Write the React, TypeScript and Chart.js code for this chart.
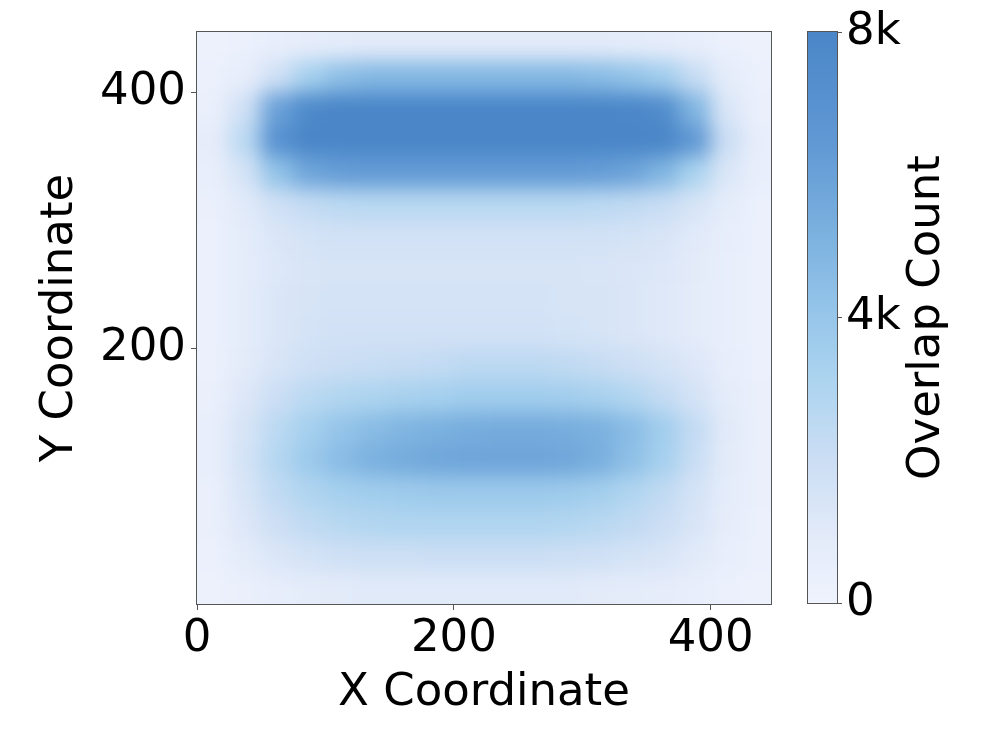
import React, { useEffect, useRef } from 'react';
import { Chart, registerables } from 'chart.js';
Chart.register(...registerables);

// ---- data ----
const X_CENTERS = [12.5, 37.5, 62.5, 87.5, 112.5, 137.5, 162.5, 187.5, 212.5, 237.5, 262.5, 287.5, 312.5, 337.5, 362.5, 387.5, 412.5, 437.5];
const Y_CENTERS = [437.5, 412.5, 387.5, 362.5, 337.5, 312.5, 287.5, 262.5, 237.5, 212.5, 187.5, 162.5, 137.5, 112.5, 87.5, 62.5, 37.5, 12.5];
const CELL = 25;

// overlap counts in thousands, one row per Y centre (top to bottom)
const ROW_437 = [0.2, 0.3, 0.5, 0.7, 0.8, 0.9, 0.9, 0.9, 0.9, 0.9, 0.9, 0.9, 0.9, 0.8, 0.7, 0.5, 0.3, 0.2];
const ROW_412 = [0.3, 0.6, 1.8, 3.4, 4.4, 4.8, 4.8, 4.8, 4.8, 4.8, 4.8, 4.8, 4.6, 4.2, 3.6, 2.2, 0.8, 0.3];
const ROW_387 = [0.4, 1.8, 6.0, 7.7, 8.0, 8.0, 8.0, 8.0, 8.0, 8.0, 8.0, 8.0, 8.0, 7.9, 7.5, 5.0, 1.3, 0.4];
const ROW_362 = [0.7, 2.6, 7.0, 8.0, 8.0, 8.0, 8.0, 8.0, 8.0, 8.0, 8.0, 8.0, 8.0, 8.0, 8.0, 6.5, 2.0, 0.5];
const ROW_337 = [0.5, 1.6, 4.2, 5.8, 6.2, 6.3, 6.3, 6.3, 6.3, 6.3, 6.3, 6.3, 6.2, 5.9, 5.0, 3.2, 1.3, 0.5];
const ROW_312 = [0.4, 1.0, 1.8, 2.3, 2.6, 2.7, 2.7, 2.7, 2.7, 2.7, 2.7, 2.7, 2.6, 2.4, 2.1, 1.5, 0.8, 0.3];
const ROW_287 = [0.3, 0.8, 1.3, 1.6, 1.7, 1.7, 1.7, 1.7, 1.7, 1.7, 1.7, 1.7, 1.7, 1.6, 1.4, 1.0, 0.6, 0.3];
const ROW_262 = [0.3, 0.8, 1.2, 1.4, 1.5, 1.5, 1.5, 1.5, 1.5, 1.5, 1.5, 1.5, 1.4, 1.3, 1.2, 0.9, 0.5, 0.3];
const ROW_237 = [0.3, 0.8, 1.3, 1.5, 1.6, 1.6, 1.6, 1.6, 1.6, 1.6, 1.6, 1.5, 1.5, 1.3, 1.1, 0.8, 0.5, 0.3];
const ROW_212 = [0.3, 0.8, 1.3, 1.6, 1.7, 1.7, 1.7, 1.7, 1.7, 1.7, 1.7, 1.6, 1.5, 1.3, 1.1, 0.8, 0.5, 0.3];
const ROW_187 = [0.3, 0.9, 1.4, 1.8, 2.0, 2.1, 2.2, 2.3, 2.5, 2.5, 2.5, 2.4, 2.2, 1.9, 1.6, 1.2, 0.6, 0.3];
const ROW_162 = [0.4, 1.2, 2.0, 2.6, 2.9, 3.1, 3.3, 3.4, 3.6, 3.6, 3.6, 3.5, 3.3, 2.9, 2.3, 1.6, 0.8, 0.4];
const ROW_137 = [0.5, 1.5, 2.6, 3.4, 4.1, 4.6, 5.0, 5.2, 5.4, 5.5, 5.5, 5.4, 5.2, 4.6, 3.6, 2.3, 1.0, 0.4];
const ROW_112 = [0.5, 1.6, 2.8, 3.8, 4.6, 5.2, 5.5, 5.7, 5.8, 5.8, 5.8, 5.7, 5.3, 4.4, 3.4, 2.1, 0.9, 0.4];
const ROW_87 = [0.4, 1.4, 2.4, 3.0, 3.4, 3.6, 3.7, 3.8, 3.8, 3.8, 3.8, 3.7, 3.5, 3.0, 2.4, 1.6, 0.8, 0.4];
const ROW_62 = [0.4, 1.2, 1.9, 2.4, 2.7, 2.9, 3.0, 3.0, 3.0, 3.0, 3.0, 2.9, 2.7, 2.4, 2.0, 1.4, 0.7, 0.3];
const ROW_37 = [0.3, 0.8, 1.3, 1.6, 1.8, 1.9, 1.9, 2.0, 2.0, 2.0, 2.0, 1.9, 1.8, 1.6, 1.4, 1.0, 0.5, 0.3];
const ROW_12 = [0.2, 0.4, 0.6, 0.8, 0.9, 1.0, 1.0, 1.0, 1.0, 1.0, 1.0, 1.0, 0.9, 0.8, 0.7, 0.5, 0.3, 0.2];
const HEAT_ROWS = [ROW_437, ROW_412, ROW_387, ROW_362, ROW_337, ROW_312, ROW_287, ROW_262, ROW_237, ROW_212, ROW_187, ROW_162, ROW_137, ROW_112, ROW_87, ROW_62, ROW_37, ROW_12];

const X_TICKS = [0, 200, 400];
const Y_TICKS = [200, 400];
const AXIS_MAX = 447;
const CB_TICKS = [0, 4000, 8000];
const CB_MAX = 8000;

// ---- colour map ----
const CMAP_POS = [0, 0.12, 0.25, 0.4, 0.5, 0.65, 0.8, 1];
const CMAP_COLORS = ['#eff3fd', '#e2eaf9', '#cbdef4', '#aad3ef', '#97c6ea', '#7bb1df', '#6199d4', '#4a86c8'];

function hexToRgb(h: string) {
  const n = parseInt(h.slice(1), 16);
  return [(n >> 16) & 255, (n >> 8) & 255, n & 255];
}
function colorFor(f: number) {
  const t = Math.max(0, Math.min(1, f));
  let i = 0;
  while (i < CMAP_POS.length - 2 && t > CMAP_POS[i + 1]) i++;
  const a = hexToRgb(CMAP_COLORS[i]);
  const b = hexToRgb(CMAP_COLORS[i + 1]);
  const u = (t - CMAP_POS[i]) / (CMAP_POS[i + 1] - CMAP_POS[i]);
  const c = a.map((v, k) => Math.round(v + (b[k] - v) * u));
  return `rgb(${c[0]},${c[1]},${c[2]})`;
}

const FONT = 'DejaVu Sans';
const FS = 45;
const SPINE = '#555';
const BLUR = 10;

const boxPlugin = {
  id: 'box',
  afterDraw(chart: any) {
    const { ctx, chartArea: a } = chart;
    ctx.save();
    ctx.strokeStyle = SPINE;
    ctx.lineWidth = 1;
    ctx.strokeRect(Math.round(a.left) - 0.5, Math.round(a.top) - 0.5, Math.round(a.right - a.left) + 1, Math.round(a.bottom - a.top) + 1);
    ctx.restore();
  },
};

const smoothPlugin = {
  id: 'smooth',
  afterDatasetsDraw(chart: any) {
    const { ctx, chartArea: a, canvas } = chart;
    const L = Math.round(a.left), T = Math.round(a.top);
    const w = Math.round(a.right) - L, h = Math.round(a.bottom) - T;
    const M = 48;
    const off = document.createElement('canvas');
    off.width = w + 2 * M;
    off.height = h + 2 * M;
    const o = off.getContext('2d')!;
    o.drawImage(canvas, L, T, w, h, M, M, w, h);
    o.drawImage(canvas, L + 1, T, 1, h, 0, M, M, h);
    o.drawImage(canvas, L + w - 2, T, 1, h, M + w, M, M, h);
    o.drawImage(canvas, L, T + 1, w, 1, M, 0, w, M);
    o.drawImage(canvas, L, T + h - 2, w, 1, M, M + h, w, M);
    o.drawImage(canvas, L + 1, T + 1, 1, 1, 0, 0, M, M);
    o.drawImage(canvas, L + w - 2, T + 1, 1, 1, M + w, 0, M, M);
    o.drawImage(canvas, L + 1, T + h - 2, 1, 1, 0, M + h, M, M);
    o.drawImage(canvas, L + w - 2, T + h - 2, 1, 1, M + w, M + h, M, M);
    ctx.save();
    ctx.beginPath();
    ctx.rect(L, T, w, h);
    ctx.clip();
    ctx.filter = `blur(${BLUR}px)`;
    ctx.drawImage(off, L - M, T - M);
    ctx.restore();
  },
};

const cbTitlePlugin = {
  id: 'cbTitle',
  afterDraw(chart: any) {
    const { ctx, chartArea: a } = chart;
    ctx.save();
    ctx.translate(137, (a.top + a.bottom) / 2);
    ctx.rotate(-Math.PI / 2);
    ctx.font = `${FS}px "${FONT}"`;
    ctx.fillStyle = '#000';
    ctx.textAlign = 'center';
    ctx.textBaseline = 'middle';
    ctx.fillText('Overlap Count', 0, 0);
    ctx.restore();
  },
};

export default function App() {
  const mainRef = useRef<HTMLCanvasElement>(null);
  const cbRef = useRef<HTMLCanvasElement>(null);

  useEffect(() => {
    const datasets = HEAT_ROWS.map((row, r) => ({
      data: row.map((v, c) => ({ x: X_CENTERS[c], y: [Y_CENTERS[r] - CELL / 2, Y_CENTERS[r] + CELL / 2] })),
      backgroundColor: row.map((v) => colorFor((v * 1000) / CB_MAX)),
      borderWidth: 0,
      grouped: false,
      barPercentage: 1,
      categoryPercentage: 1,
    }));

    const tickFont = { family: FONT, size: FS };
    const main = new Chart(mainRef.current!, {
      type: 'bar',
      data: { datasets: datasets as any },
      options: {
        responsive: false,
        animation: false,
        layout: { padding: { left: 0, top: 32, right: 19, bottom: 0 } },
        plugins: { legend: { display: false }, tooltip: { enabled: false } },
        scales: {
          x: {
            type: 'linear',
            min: 0,
            max: AXIS_MAX,
            offset: false,
            afterBuildTicks: (s: any) => { s.ticks = X_TICKS.map((v) => ({ value: v })); },
            afterFit: (s: any) => { s.height = 134; },
            grid: { drawOnChartArea: false, drawTicks: true, tickLength: 6, color: SPINE, offset: false },
            border: { display: false },
            ticks: { color: '#000', font: tickFont, padding: 2, maxRotation: 0 },
            title: { display: true, text: 'X Coordinate', color: '#000', font: tickFont, padding: { top: 0, bottom: 18 } },
          },
          y: {
            type: 'linear',
            min: 0,
            max: AXIS_MAX,
            afterBuildTicks: (s: any) => { s.ticks = Y_TICKS.map((v) => ({ value: v })); },
            afterFit: (s: any) => { s.width = 197; },
            grid: { drawOnChartArea: false, drawTicks: true, tickLength: 6, color: SPINE },
            border: { display: false },
            ticks: { color: '#000', font: tickFont, padding: 5 },
            title: { display: true, text: 'Y Coordinate', color: '#000', font: tickFont, padding: { top: 33, bottom: 0 } },
          },
        },
      },
      plugins: [smoothPlugin, boxPlugin],
    });

    const cb = new Chart(cbRef.current!, {
      type: 'bar',
      data: {
        labels: [''],
        datasets: [{
          data: [[0, CB_MAX]] as any,
          backgroundColor: (c: any) => {
            const a = c.chart.chartArea;
            if (!a) return CMAP_COLORS[0];
            const g = c.chart.ctx.createLinearGradient(0, a.bottom, 0, a.top);
            CMAP_POS.forEach((p, i) => g.addColorStop(p, CMAP_COLORS[i]));
            return g;
          },
          borderWidth: 0,
          barPercentage: 1,
          categoryPercentage: 1,
        }],
      },
      options: {
        responsive: false,
        animation: false,
        layout: { padding: { left: 18, top: 32, right: 0, bottom: 135 } },
        plugins: { legend: { display: false }, tooltip: { enabled: false } },
        scales: {
          x: { display: false },
          y: {
            position: 'right',
            min: 0,
            max: CB_MAX,
            afterBuildTicks: (s: any) => { s.ticks = CB_TICKS.map((v) => ({ value: v })); },
            afterFit: (s: any) => { s.width = 160; },
            grid: { drawOnChartArea: false, drawTicks: true, tickLength: 5, color: SPINE },
            border: { display: false },
            ticks: {
              color: '#000',
              font: tickFont,
              padding: 4,
              callback: (v: any) => (Number(v) === 0 ? '0' : `${Number(v) / 1000}k`),
            },
          },
        },
      },
      plugins: [boxPlugin, cbTitlePlugin],
    });

    return () => {
      main.destroy();
      cb.destroy();
    };
  }, []);

  return (
    <div style={{ position: 'absolute', left: 0, top: 0, width: 997, height: 738, background: '#fff' }}>
      <canvas ref={mainRef} width={790} height={738} style={{ position: 'absolute', left: 0, top: 0, width: 790, height: 738 }} />
      <canvas ref={cbRef} width={207} height={738} style={{ position: 'absolute', left: 790, top: 0, width: 207, height: 738 }} />
    </div>
  );
}
